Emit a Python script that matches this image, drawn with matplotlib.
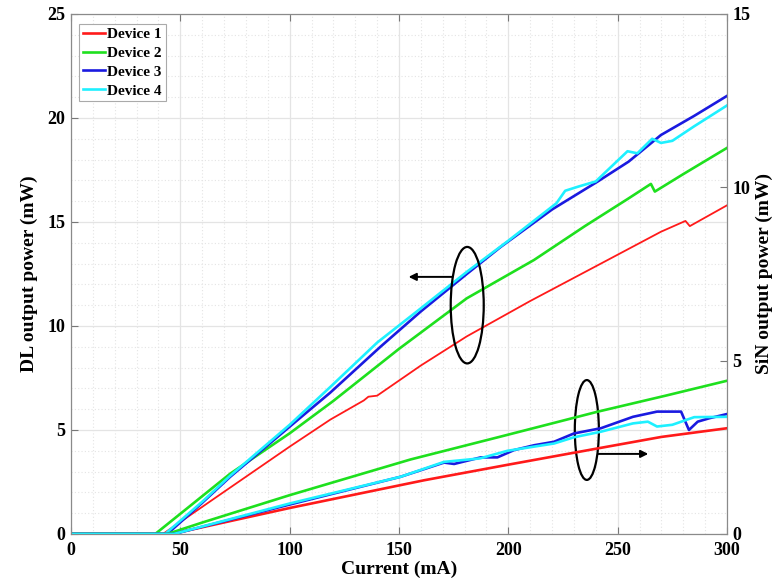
import numpy as np
import matplotlib.pyplot as plt
from matplotlib.patches import Ellipse

plt.rcParams['font.family'] = 'Liberation Serif'
plt.rcParams['font.weight'] = 'bold'

# DL output power (left axis, mW) vs current (mA)
dl1_i = [0, 42, 66.7, 100, 118.6, 133.9, 136, 140, 160, 181, 210, 245.4, 269.8, 281, 283, 300]
dl1_p = [0, 0, 1.79, 4.2, 5.5, 6.42, 6.6, 6.65, 8.1, 9.5, 11.2, 13.17, 14.53, 15.05, 14.8, 15.8]

dl2_i = [0, 38.5, 72.8, 100, 120, 150, 181, 211.7, 235, 254.5, 265.2, 267, 280, 300]
dl2_p = [0, 0, 2.9, 4.84, 6.4, 8.9, 11.33, 13.17, 14.8, 16.1, 16.83, 16.46, 17.3, 18.56]

dl3_i = [0, 44, 60, 72.8, 100, 118.6, 141.5, 160, 181, 196.5, 220, 240.8, 255, 269.8, 285, 300]
dl3_p = [0, 0, 1.5, 2.75, 5.16, 6.8, 9.0, 10.7, 12.5, 13.8, 15.6, 16.94, 17.9, 19.18, 20.1, 21.06]

dl4_i = [0, 43, 60, 72.8, 100, 118.6, 140, 160, 181, 200, 222, 226, 232, 240, 254.5, 259, 265.8, 269.8, 275, 285, 300]
dl4_p = [0, 0, 1.55, 2.8, 5.25, 7.07, 9.2, 10.85, 12.6, 14.1, 15.9, 16.5, 16.7, 16.95, 18.4, 18.3, 19.0, 18.8, 18.9, 19.6, 20.6]

# SiN output power (right axis, mW)
sin1_i = [0, 46, 100, 150.7, 161.5, 200, 241, 270, 300]
sin1_p = [0, 0, 0.75, 1.41, 1.55, 2.0, 2.47, 2.8, 3.05]

sin2_i = [0, 44, 60, 100, 155.3, 196.5, 241, 272.6, 300]
sin2_p = [0, 0, 0.33, 1.12, 2.15, 2.81, 3.53, 4.0, 4.42]

sin3_i = [0, 47, 100, 150.7, 161.4, 170.6, 175.2, 187.4, 195, 202.6, 211.8, 220.9, 230, 242.3,
          257, 268, 279, 282.6, 286.6, 292, 300]
sin3_p = [0, 0, 0.85, 1.65, 1.87, 2.06, 2.02, 2.21, 2.21, 2.42, 2.56, 2.66, 2.9, 3.05,
          3.38, 3.53, 3.53, 3.0, 3.24, 3.34, 3.46]

sin4_i = [0, 47, 100, 150.7, 170.6, 187, 199.6, 220.9, 230, 242.3, 257, 263.8, 268, 275, 285, 300]
sin4_p = [0, 0, 0.88, 1.65, 2.08, 2.18, 2.40, 2.61, 2.79, 2.95, 3.19, 3.24, 3.1, 3.15, 3.37, 3.38]

labels = ['Device 1', 'Device 2', 'Device 3', 'Device 4']
colors = ['#ff1a1a', '#1ee01e', '#1a1ae0', '#1ef0ff']

fig, ax = plt.subplots(figsize=(7.72, 5.81), dpi=100)
fig.subplots_adjust(left=0.092, right=0.9417, bottom=0.0809, top=0.976)
ax2 = ax.twinx()

dl = [(dl1_i, dl1_p), (dl2_i, dl2_p), (dl3_i, dl3_p), (dl4_i, dl4_p)]
sn = [(sin1_i, sin1_p), (sin2_i, sin2_p), (sin3_i, sin3_p), (sin4_i, sin4_p)]
lws = [1.3, 1.9, 1.9, 1.9]

for k in range(4):
    ax.plot(dl[k][0], dl[k][1], color=colors[k], lw=lws[k], label=labels[k])
    ax2.plot(sn[k][0], sn[k][1], color=colors[k], lw=1.9)

ax.set_xlim(0, 300)
ax.set_ylim(0, 25)
ax2.set_ylim(0, 15)
ax.set_xticks(np.arange(0, 301, 50))
ax.set_yticks(np.arange(0, 26, 5))
ax2.set_yticks([0, 5, 10, 15])
ax.set_xticks(np.arange(0, 301, 10), minor=True)
ax.set_yticks(np.arange(0, 26, 1), minor=True)

ax.grid(which='major', color='#e4e4e4', lw=0.9, ls='-')
ax.grid(which='minor', color='#e4e4e4', lw=0.8, ls=(0, (1, 2)))
ax.set_axisbelow(True)

ax.tick_params(which='major', direction='in', length=5, top=True, labelsize=13, color='#777777')
ax.tick_params(axis='y', pad=4)
ax.tick_params(axis='x', pad=6)
ax.tick_params(which='minor', length=0)
ax2.tick_params(direction='in', length=5, labelsize=13, color='#777777', pad=4)
for a in (ax, ax2):
    for s in a.spines.values():
        s.set_color('#8a8a8a')
    for t in a.get_xticklabels() + a.get_yticklabels():
        t.set_fontweight('bold')

ax.set_xlabel('Current (mA)', fontsize=14, fontweight='bold', labelpad=1)
ax.set_ylabel('DL output power (mW)', fontsize=14, fontweight='bold', labelpad=7)
ax2.set_ylabel('SiN output power (mW)', fontsize=14, fontweight='bold', labelpad=4)

# annotation ellipses and arrows
ax.add_patch(Ellipse((181.2, 11.0), 15.1, 5.6, fill=False, ec='k', lw=1.6, zorder=5))
ax.add_patch(Ellipse((235.9, 5.0), 11.0, 4.8, fill=False, ec='k', lw=1.6, zorder=5))
ax.annotate('', xy=(154.4, 12.36), xytext=(174.5, 12.36),
            arrowprops=dict(arrowstyle='-|>', color='k', lw=1.4, mutation_scale=11, shrinkA=0, shrinkB=0))
ax.annotate('', xy=(264.0, 3.85), xytext=(241.0, 3.85),
            arrowprops=dict(arrowstyle='-|>', color='k', lw=1.4, mutation_scale=11, shrinkA=0, shrinkB=0))

leg = ax.legend(loc='upper left', prop={'weight': 'bold', 'size': 11},
                handlelength=1.45, handletextpad=0.15, labelspacing=0.33,
                borderpad=0.25, borderaxespad=0, fancybox=False, edgecolor='#aaaaaa',
                framealpha=1, bbox_to_anchor=(0.0122, 0.981))
leg.get_frame().set_linewidth(0.8)
for h in leg.get_lines():
    h.set_linewidth(1.9)

plt.savefig('out.png', dpi=100)
